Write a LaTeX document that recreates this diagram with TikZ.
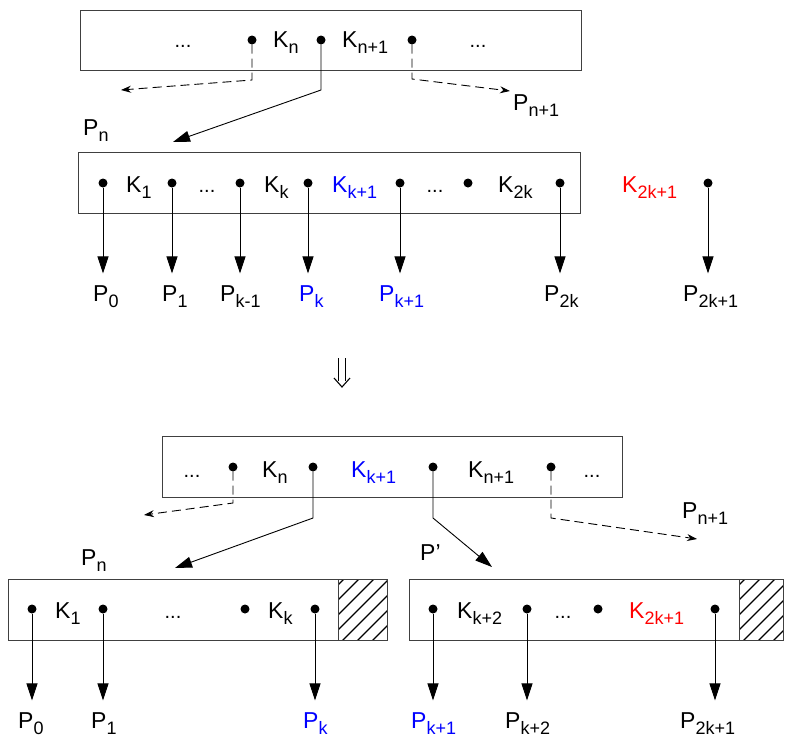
\documentclass[tikz,border=0pt]{standalone}
\usepackage{fontspec}
\setmainfont{Liberation Sans}
\usetikzlibrary{arrows.meta}
\newcommand{\Sb}[1]{\raisebox{-6pt}{\fontsize{18}{18}\selectfont #1}}
\definecolor{kblue}{RGB}{0,0,255}
\definecolor{kred}{RGB}{255,0,0}
\begin{document}
\begin{tikzpicture}[x=1pt,y=-1pt,
  box/.style={draw=black!75,line width=1pt},
  dot/.style={circle,fill=black,inner sep=0pt,minimum size=9pt},
  lbl/.style={anchor=base west,inner sep=0pt,font=\fontsize{23}{27}\selectfont},
  ell/.style={anchor=base,inner sep=0pt,font=\fontsize{20}{24}\selectfont},
  arr/.style={line width=0.9pt,-{Triangle[length=17pt,width=11pt]}},
  parr/.style={arr,shorten >=11.5pt},
  darr/.style={line width=0.9pt,dash pattern=on 9pt off 5pt,-{Stealth[length=10pt,width=7pt]}},
  hatch/.style={line width=1.3pt}
]
\useasboundingbox (0,0) rectangle (785,737);

% ---------- top: parent node ----------
\draw[box] (80,10) rectangle (581,70);
\node[dot] (t1) at (252,40) {};
\node[dot] (t2) at (321,40) {};
\node[dot] (t3) at (412,40) {};
\node[ell] (te1) at (183,47) {...};
\node[lbl] (tkn) at (273,47) {K\Sb{n}};
\node[lbl] (tkn1) at (342,47) {K\Sb{n+1}};
\node[ell] (te2) at (478,47) {...};
\node[lbl] (tpn) at (83,135) {P\Sb{n}};
\node[lbl] (tpn1) at (513,110) {P\Sb{n+1}};
\coordinate (tc1) at (121,90);
\coordinate (tc2) at (173,142);
\coordinate (tc3) at (510,91);
\draw[darr] (t1) -- (252,80) -- (tc1);
\draw[arr] (t2) -- (321,90) -- (tc2);
\draw[darr] (t3) -- (412,79) -- (tc3);

% ---------- middle: overfull node ----------
\draw[box] (78,152) rectangle (580,213);
\foreach \n/\x in {m0/103,m1/172,m2/240,m3/308,m4/400,m5/468,m6/560,m7/708}
  \node[dot] (\n) at (\x,183) {};
\node[lbl] (mk1) at (126,192) {K\Sb{1}};
\node[ell] (me1) at (207,192) {...};
\node[lbl] (mkk) at (264,192) {K\Sb{k}};
\node[lbl,text=kblue] (mkk1) at (332,192) {K\Sb{k+1}};
\node[ell] (me2) at (435,192) {...};
\node[lbl] (mk2k) at (498,192) {K\Sb{2k}};
\node[lbl,text=kred] (mk2k1) at (622,192) {K\Sb{2k+1}};
\node[lbl] (mp0) at (93,301) {P\Sb{0}};
\node[lbl] (mp1) at (162,301) {P\Sb{1}};
\node[lbl] (mpk0) at (220,301) {P\Sb{k-1}};
\node[lbl,text=kblue] (mpk) at (299,301) {P\Sb{k}};
\node[lbl,text=kblue] (mpk1) at (379,301) {P\Sb{k+1}};
\node[lbl] (mp2k) at (544,301) {P\Sb{2k}};
\node[lbl] (mp2k1) at (683,301) {P\Sb{2k+1}};
\draw[parr] (m0) -- (m0 |- mp0.north);
\draw[parr] (m1) -- (m1 |- mp1.north);
\draw[parr] (m2) -- (m2 |- mpk0.north);
\draw[parr] (m3) -- (m3 |- mpk.north);
\draw[parr] (m4) -- (m4 |- mpk1.north);
\draw[parr] (m6) -- (m6 |- mp2k.north);
\draw[parr] (m7) -- (m7 |- mp2k1.north);

% ---------- double arrow ----------
\draw[line width=1.1pt] (338.5,358) -- (338.5,381);
\draw[line width=1.1pt] (345.5,358) -- (345.5,381);
\draw[line width=1.1pt,line join=miter] (334,378) -- (342,387) -- (350,378);

% ---------- bottom: parent after split ----------
\draw[box] (162,436) rectangle (622,497);
\node[dot] (b1) at (233,467) {};
\node[dot] (b2) at (313,467) {};
\node[dot] (b3) at (433,467) {};
\node[dot] (b4) at (551,467) {};
\node[ell] (be1) at (192,477) {...};
\node[lbl] (bkn) at (262,477) {K\Sb{n}};
\node[lbl,text=kblue] (bkk1) at (351,477) {K\Sb{k+1}};
\node[lbl] (bkn1) at (468,477) {K\Sb{n+1}};
\node[ell] (be2) at (592,477) {...};
\node[lbl] (bpn) at (81,565) {P\Sb{n}};
\node[lbl] (bpp) at (420,560) {P’};
\node[lbl] (bpn1) at (682,518) {P\Sb{n+1}};
\coordinate (bc1) at (144,515);
\coordinate (bc2) at (175,568);
\coordinate (bc3) at (492,567);
\coordinate (bc4) at (697,539);
\draw[darr] (b1) -- (233,503) -- (bc1);
\draw[arr] (b2) -- (313,518) -- (bc2);
\draw[arr] (b3) -- (433,518) -- (bc3);
\draw[darr] (b4) -- (551,518) -- (bc4);

% ---------- bottom-left node ----------
\begin{scope}
  \clip (338,579) rectangle (387,640);
  \foreach \i in {-4,...,4}
    \draw[hatch] (338+\i*15,645) -- ++(71,-71);
\end{scope}
\draw[box] (8,579) rectangle (387,640);
\draw[box] (338,579) -- (338,640);
\foreach \n/\x in {l0/32,l1/103,l2/245,l3/315}
  \node[dot] (\n) at (\x,609) {};
\node[lbl] (lk1) at (55,618) {K\Sb{1}};
\node[ell] (le1) at (173,618) {...};
\node[lbl] (lkk) at (268,618) {K\Sb{k}};
\node[lbl] (lp0) at (18,728) {P\Sb{0}};
\node[lbl] (lp1) at (91,728) {P\Sb{1}};
\node[lbl,text=kblue] (lpk) at (303,728) {P\Sb{k}};
\draw[parr] (l0) -- (l0 |- lp0.north);
\draw[parr] (l1) -- (l1 |- lp1.north);
\draw[parr] (l3) -- (l3 |- lpk.north);

% ---------- bottom-right node ----------
\begin{scope}
  \clip (739,579) rectangle (783,640);
  \foreach \i in {-4,...,4}
    \draw[hatch] (739+\i*15,645) -- ++(71,-71);
\end{scope}
\draw[box] (409,579) rectangle (783,640);
\draw[box] (739,579) -- (739,640);
\foreach \n/\x in {r0/433,r1/527,r2/598,r3/715}
  \node[dot] (\n) at (\x,609) {};
\node[lbl] (rkk2) at (457,618) {K\Sb{k+2}};
\node[ell] (re1) at (563,618) {...};
\node[lbl,text=kred] (rk2k1) at (629,618) {K\Sb{2k+1}};
\node[lbl,text=kblue] (rpk1) at (411,728) {P\Sb{k+1}};
\node[lbl] (rpk2) at (505,728) {P\Sb{k+2}};
\node[lbl] (rp2k1) at (680,728) {P\Sb{2k+1}};
\draw[parr] (r0) -- (r0 |- rpk1.north);
\draw[parr] (r1) -- (r1 |- rpk2.north);
\draw[parr] (r3) -- (r3 |- rp2k1.north);
\end{tikzpicture}
\end{document}
